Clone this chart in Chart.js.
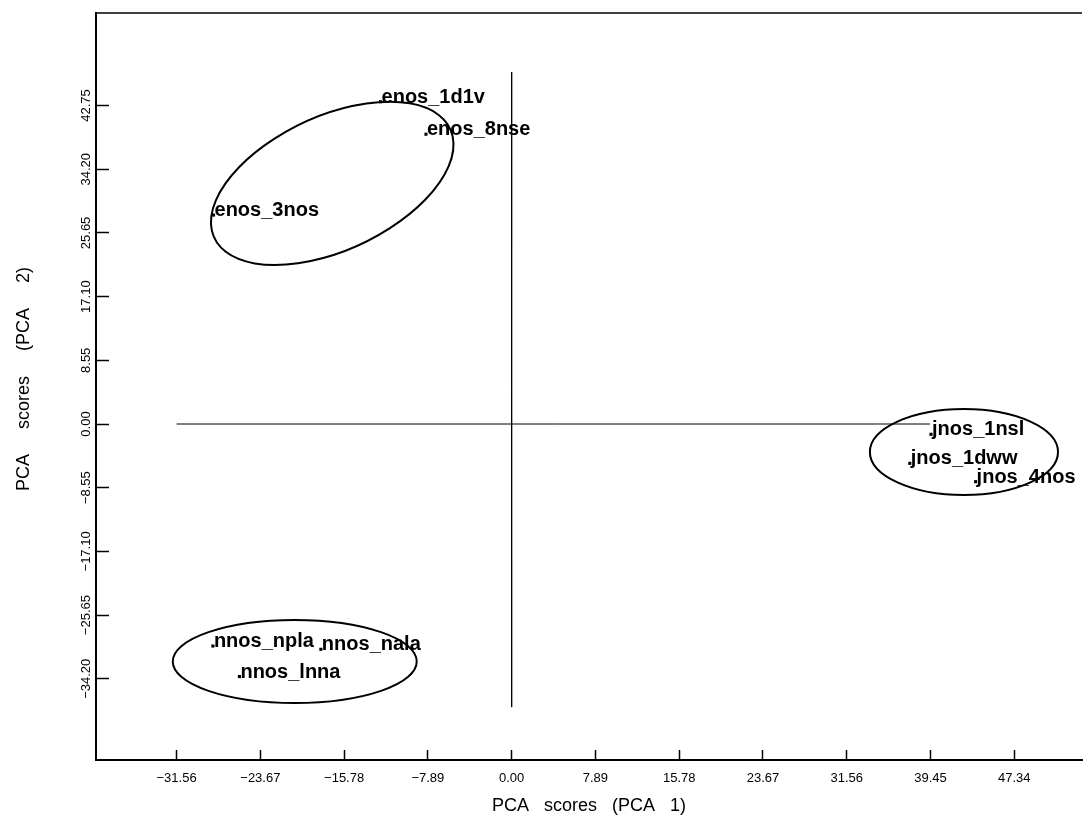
<!DOCTYPE html>
<html>
<head>
<meta charset="utf-8">
<script src="https://cdn.jsdelivr.net/npm/chart.js@4.4.0/dist/chart.umd.min.js"></script>
<style>
  html, body { margin: 0; padding: 0; background: #fff; }
</style>
</head>
<body>
<canvas id="pcaChart" width="1086" height="821"></canvas>
<script>
// PCA scores per structure
const names = ['enos_1d1v', 'enos_8nse', 'enos_3nos', 'jnos_1nsl', 'jnos_1dww', 'jnos_4nos', 'nnos_npla', 'nnos_nala', 'nnos_lnna'];
const pca1 = [-12.35, -8.07, -28.08, 39.5, 37.5, 43.7, -28.14, -17.97, -25.64];
const pca2 = [43.26, 38.9, 28.05, -1.38, -5.28, -7.74, -29.8, -30.24, -33.9];

const xTicks = [-31.56, -23.67, -15.78, -7.89, 0, 7.89, 15.78, 23.67, 31.56, 39.45, 47.34];
const yTicks = [-34.20, -25.65, -17.10, -8.55, 0, 8.55, 17.10, 25.65, 34.20, 42.75];

// cluster ellipses (data units): centre, semi-axes, tilt in degrees
const ellCx = [-16.9, 42.6, -20.43];
const ellCy = [32.3, -3.76, -31.88];
const ellRx = [13.6, 8.86, 11.49];
const ellRy = [8.1, 5.77, 5.57];
const ellRot = [42.5, 0, 0];

// reference lines through the origin
const hLine = [{ x: -31.56, y: 0 }, { x: 39.4, y: 0 }];
const vLine = [{ x: 0, y: 47.25 }, { x: 0, y: -38.0 }];

const fmt = v => (v < 0 ? '\u2212' : '') + Math.abs(v).toFixed(2);

const clusterPlugin = {
    id: 'clusters',
    beforeDatasetsDraw(chart) {
        const { ctx, scales: { x, y } } = chart;
        const kx = x.getPixelForValue(1) - x.getPixelForValue(0);
        const ky = y.getPixelForValue(0) - y.getPixelForValue(1);
        ctx.save();
        ctx.strokeStyle = '#000';
        ctx.lineWidth = 2;
        for (let i = 0; i < ellCx.length; i++) {
            ctx.save();
            ctx.translate(x.getPixelForValue(ellCx[i]), y.getPixelForValue(ellCy[i]));
            ctx.scale(kx, -ky);
            ctx.rotate(ellRot[i] * Math.PI / 180);
            ctx.beginPath();
            ctx.ellipse(0, 0, ellRx[i], ellRy[i], 0, 0, Math.PI * 2);
            ctx.restore();
            ctx.stroke();
        }
        ctx.restore();
    },
    afterDatasetsDraw(chart) {
        const { ctx, scales: { x, y } } = chart;
        ctx.save();
        ctx.fillStyle = '#000';
        ctx.font = 'bold 20px "Liberation Sans", Arial, sans-serif';
        ctx.textAlign = 'left';
        ctx.textBaseline = 'alphabetic';
        names.forEach((n, i) => {
            ctx.fillText(n, x.getPixelForValue(pca1[i]) + 1, y.getPixelForValue(pca2[i]) + 1);
        });
        ctx.restore();
    },
    afterDraw(chart) {
        // top frame line (no right-hand frame in the original)
        const { ctx, chartArea } = chart;
        ctx.save();
        ctx.strokeStyle = '#000';
        ctx.lineWidth = 1.5;
        ctx.beginPath();
        ctx.moveTo(chartArea.left, chartArea.top);
        ctx.lineTo(chartArea.right, chartArea.top);
        ctx.stroke();
        ctx.restore();
    }
};

const ctx = document.getElementById('pcaChart').getContext('2d');
const pcaChart = new Chart(ctx, {
    type: 'scatter',
    data: {
        datasets: [
            {
                label: 'scores',
                data: pca1.map((v, i) => ({ x: v, y: pca2[i] })),
                pointStyle: 'rect',
                pointRadius: 2.2,
                backgroundColor: '#000',
                borderWidth: 0,
            },
            {
                label: 'h',
                data: hLine,
                showLine: true,
                pointRadius: 0,
                borderColor: '#000',
                borderWidth: 1,
            },
            {
                label: 'v',
                data: vLine,
                showLine: true,
                pointRadius: 0,
                borderColor: '#000',
                borderWidth: 1,
            },
        ],
    },
    options: {
        responsive: false,
        animation: false,
        devicePixelRatio: 1,
        layout: { padding: { top: 13, left: 0, right: 0, bottom: 0 } },
        plugins: { legend: { display: false }, tooltip: { enabled: false } },
        scales: {
            x: {
                type: 'linear',
                min: -39.15,
                max: 53.72,
                afterBuildTicks: s => { s.ticks = xTicks.map(v => ({ value: v })); },
                afterFit: s => { s.height = 61; },
                ticks: {
                    callback: v => fmt(v),
                    color: '#000',
                    font: { family: '"Liberation Sans", Arial', size: 13 },
                    padding: 21,
                    maxRotation: 0,
                    autoSkip: false,
                },
                grid: { drawOnChartArea: false, tickLength: -10, tickColor: '#000', tickWidth: 1.5 },
                border: { color: '#000', width: 2 },
                title: {
                    display: true,
                    text: 'PCA   scores   (PCA   1)',
                    color: '#000',
                    font: { family: '"Liberation Sans", Arial', size: 18 },
                    padding: { bottom: 4 },
                },
            },
            y: {
                type: 'linear',
                min: -45.1,
                max: 55.17,
                afterBuildTicks: s => { s.ticks = yTicks.map(v => ({ value: v })); },
                afterFit: s => { s.width = 96; },
                ticks: {
                    callback: v => fmt(v),
                    color: '#000',
                    font: { family: '"Liberation Sans", Arial', size: 13 },
                    minRotation: 90,
                    maxRotation: 90,
                    crossAlign: 'center',
                    padding: 3,
                    autoSkip: false,
                },
                grid: { drawOnChartArea: false, tickLength: -13, tickColor: '#000', tickWidth: 1.5 },
                border: { color: '#000', width: 2 },
                title: {
                    display: true,
                    text: '   PCA     scores     (PCA     2)',
                    color: '#000',
                    font: { family: '"Liberation Sans", Arial', size: 18 },
                    padding: { top: 13 },
                },
            },
        },
    },
    plugins: [clusterPlugin],
});
</script>
</body>
</html>
